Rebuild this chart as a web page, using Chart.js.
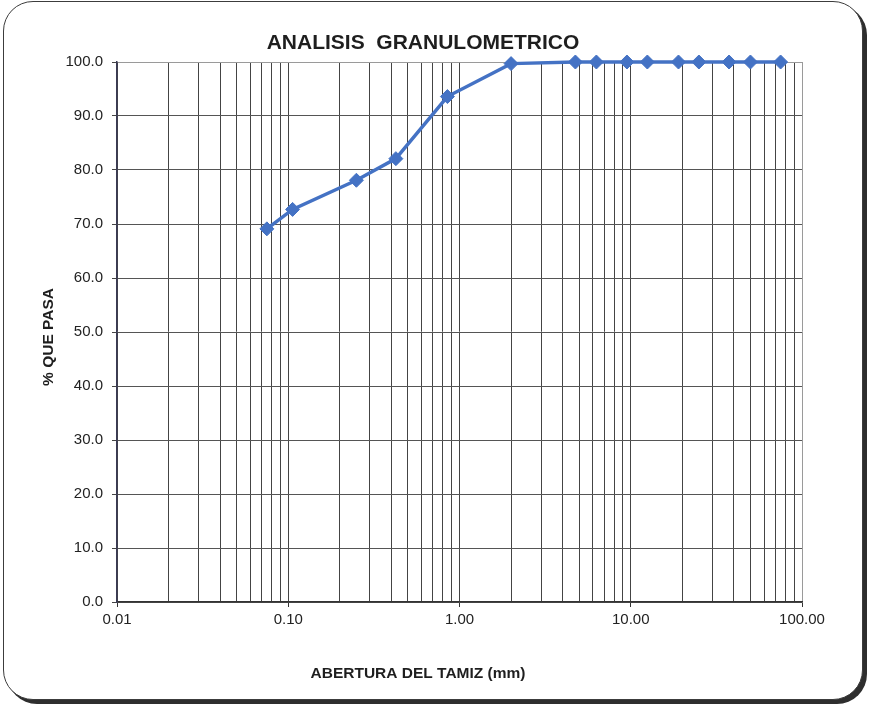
<!DOCTYPE html>
<html>
<head>
<meta charset="utf-8">
<script src="https://cdn.jsdelivr.net/npm/chart.js@4/dist/chart.umd.min.js"></script>
<style>
  html, body { margin: 0; padding: 0; background: #fff; }
  #wrap { position: relative; width: 875px; height: 709px; overflow: hidden; }
  #frame {
    position: absolute; left: 3px; top: 1px; width: 858px; height: 697px;
    border: 1.5px solid #3c3c3c; border-radius: 30px;
    box-shadow: 4px 4px 0 #2e2e2e;
    background: #fff;
  }
  canvas { position: absolute; left: 0; top: 0; }
</style>
</head>
<body>
<div id="wrap">
  <div id="frame"></div>
  <canvas id="chart" width="875" height="709"></canvas>
</div>
<script>
// Sieve openings (mm) and cumulative percentage passing
const sieveOpenings  = [75, 50, 37.5, 25, 19, 12.5, 9.5, 6.3, 4.75, 2.0, 0.85, 0.425, 0.25, 0.106, 0.075];
const percentPassing = [100, 100, 100, 100, 100, 100, 100, 100, 100, 99.7, 93.6, 82.1, 78.1, 72.7, 69.1];

// Axis tick values
const xDecades   = [0.01, 0.1, 1, 10, 100];
const xMultiples = [1, 2, 3, 4, 5, 6, 7, 8, 9];
const yTicks     = [0, 10, 20, 30, 40, 50, 60, 70, 80, 90, 100];

const CHART_TITLE = 'ANALISIS  GRANULOMETRICO';
const X_TITLE = 'ABERTURA DEL TAMIZ (mm)';
const Y_TITLE = '% QUE PASA';

const FONT = '"Liberation Sans", Arial, sans-serif';

function isDecade(v) {
  const l = Math.log10(v);
  return Math.abs(l - Math.round(l)) < 1e-9;
}

// Full log grid: every 1..9 multiple in each decade, plus the last decade
const xGridValues = [];
for (let i = 0; i < xDecades.length - 1; i++) {
  for (const m of xMultiples) xGridValues.push(+(m * xDecades[i]).toPrecision(6));
}
xGridValues.push(xDecades[xDecades.length - 1]);

const textPlugin = {
  id: 'chartTexts',
  afterDraw(chart) {
    const ctx = chart.ctx;
    ctx.save();
    ctx.fillStyle = '#1e1e1e';
    ctx.textAlign = 'center';
    ctx.textBaseline = 'middle';
    ctx.font = 'bold 21px ' + FONT;
    ctx.fillText(CHART_TITLE, 423, 43);
    ctx.font = 'bold 15.5px ' + FONT;
    ctx.fillText(X_TITLE, 418, 674);
    ctx.translate(49, 337);
    ctx.rotate(-Math.PI / 2);
    ctx.fillText(Y_TITLE, 0, 0);
    ctx.restore();
  }
};

new Chart(document.getElementById('chart'), {
  type: 'line',
  data: {
    datasets: [{
      data: sieveOpenings.map((x, i) => ({ x, y: percentPassing[i] })),
      borderColor: '#4472C4',
      backgroundColor: '#4472C4',
      borderWidth: 3.5,
      pointStyle: 'rectRot',
      pointRadius: 7,
      pointBorderWidth: 1,
      tension: 0,
      clip: false
    }]
  },
  options: {
    responsive: false,
    animation: false,
    devicePixelRatio: 1,
    layout: { padding: { left: 0, right: 73, top: 62, bottom: 77 } },
    plugins: {
      legend: { display: false },
      tooltip: { enabled: false },
      title: { display: false }
    },
    scales: {
      x: {
        type: 'logarithmic',
        position: 'bottom',
        min: xDecades[0],
        max: xDecades[xDecades.length - 1],
        afterBuildTicks: (scale) => { scale.ticks = xGridValues.map(v => ({ value: v })); },
        afterFit: (scale) => { scale.height = 30; },
        border: { display: true, color: '#333', width: 1.5 },
        grid: {
          color: (c) => (c.tick && c.tick.value === 100) ? '#9a9a9a' : '#444',
          lineWidth: 1,
          drawTicks: true,
          tickLength: 5,
          tickColor: (c) => (c.tick && isDecade(c.tick.value)) ? '#333' : 'rgba(0,0,0,0)'
        },
        ticks: {
          autoSkip: false,
          maxRotation: 0,
          minRotation: 0,
          padding: 4,
          color: '#222',
          font: { family: FONT, size: 15 },
          callback: (v) => isDecade(v) ? Number(v).toFixed(2) : ''
        }
      },
      y: {
        min: yTicks[0],
        max: yTicks[yTicks.length - 1],
        afterBuildTicks: (scale) => { scale.ticks = yTicks.map(v => ({ value: v })); },
        afterFit: (scale) => { scale.width = 117; },
        border: { display: true, color: '#3a3a55', width: 1.5 },
        grid: {
          color: (c) => (c.tick && c.tick.value === 100) ? '#9a9a9a' : '#555',
          lineWidth: 1,
          tickLength: 5,
          tickColor: '#444'
        },
        ticks: {
          padding: 9,
          color: '#222',
          font: { family: FONT, size: 15 },
          callback: (v) => Number(v).toFixed(1)
        }
      }
    }
  },
  plugins: [textPlugin]
});
</script>
</body>
</html>
